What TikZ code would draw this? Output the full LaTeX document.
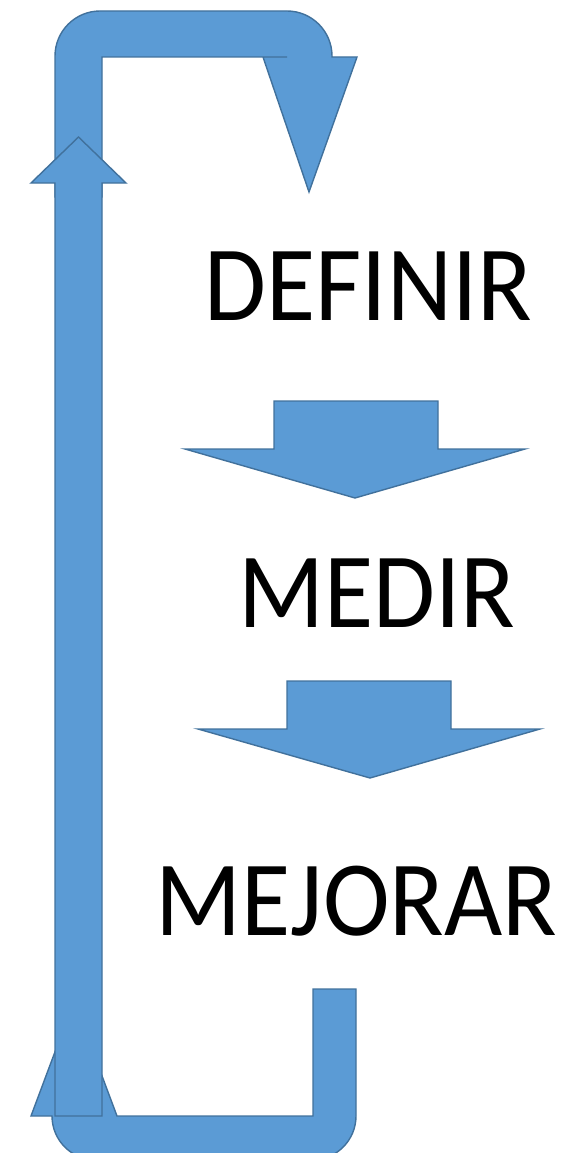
\documentclass[tikz,border=0pt]{standalone}
\usepackage{fontspec}
\setmainfont{Carlito}[FakeStretch=0.94]
\definecolor{shapefill}{HTML}{5B9BD5}
\definecolor{shapeline}{HTML}{41719C}
\tikzset{
  blueshape/.style={fill=shapefill, draw=shapeline, line width=1.4pt, line join=miter},
  label/.style={inner sep=0pt, anchor=base, font=\fontsize{107}{120}\selectfont}
}
\begin{document}
\begin{tikzpicture}[x=1pt,y=-1pt]
\useasboundingbox (0,0) rectangle (564,1153);
% top U-turn arrow (pointing down)
\path[blueshape] (55,197) -- (55,56) .. controls (55,31.2) and (75.2,11) .. (100,11)
  -- (287,11) .. controls (311.8,11) and (332,31.2) .. (332,56) -- (332,57)
  -- (357,57) -- (309,192) -- (263,57) -- (287,57) -- (102,57) -- (102,197) -- cycle;
% bottom U-turn arrow (pointing up)
\path[blueshape] (356,989) -- (356,1116) .. controls (356,1140.3) and (336.3,1160) .. (312,1160)
  -- (96,1160) .. controls (71.7,1160) and (52,1140.3) .. (52,1116)
  -- (31,1116) -- (74,1001) -- (117,1116) -- (313,1116) -- (313,989) -- cycle;
% long up arrow
\path[blueshape] (55,1116) -- (55,183) -- (31,183) -- (78.5,137) -- (126,183)
  -- (102,183) -- (102,1116) -- cycle;
% down arrows
\path[blueshape] (274,401) -- (438,401) -- (438,449) -- (525,449) -- (355,498)
  -- (185,449) -- (274,449) -- cycle;
\path[blueshape] (287,681) -- (451,681) -- (451,729) -- (540,729) -- (370,778)
  -- (198,729) -- (287,729) -- cycle;
% labels
\node[label] (definir) at (368.5,320) {DEFINIR};
\node[label] (medir) at (377,627) {MEDIR};
\node[label] (mejorar) at (356.5,935) {MEJORAR};
\end{tikzpicture}
\end{document}
